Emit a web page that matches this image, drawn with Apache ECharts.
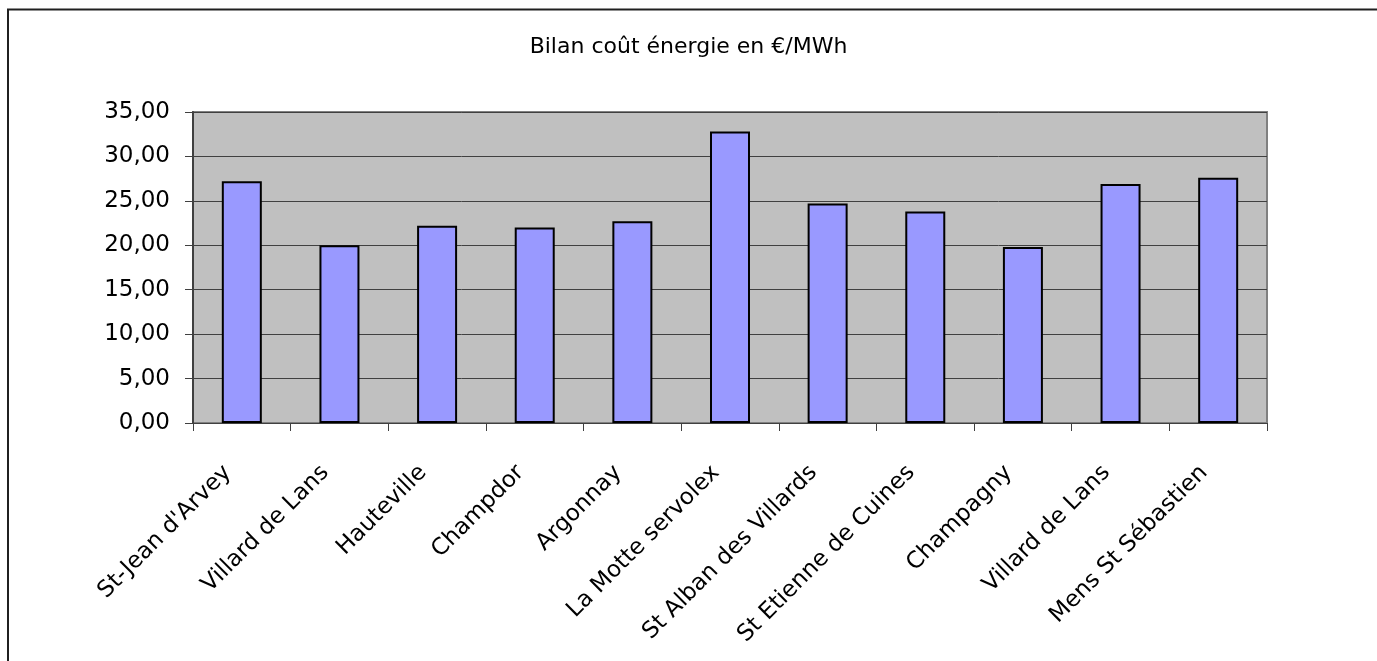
<!DOCTYPE html>
<html>
<head>
<meta charset="utf-8">
<script src="https://cdn.jsdelivr.net/npm/echarts@6/dist/echarts.min.js"></script>
<style>
html,body{margin:0;padding:0;background:#fff;}
#chart{width:1377px;height:661px;}
</style>
</head>
<body>
<div id="chart"></div>
<script>
const titleText = "Bilan coût énergie en €/MWh";
const categories = ["St-Jean d'Arvey","Villard de Lans","Hauteville","Champdor","Argonnay","La Motte servolex","St Alban des Villards","St Etienne de Cuines","Champagny","Villard de Lans","Mens St Sébastien"];
const values = [27.2, 20.0, 22.2, 22.0, 22.7, 32.8, 24.7, 23.8, 19.8, 26.9, 27.6];
const yMin = 0, yMax = 35, yStep = 5;

const chart = echarts.init(document.getElementById('chart'), null, {renderer:'canvas'});
const font = 'DejaVu Sans';
chart.setOption({
  animation:false,
  backgroundColor:'#ffffff',
  textStyle:{fontFamily:font},
  title:{
    text:titleText, left:'center', top:31,
    textStyle:{fontFamily:font, fontSize:22, fontWeight:'normal', color:'#000'}
  },
  graphic:[
    {type:'polyline', shape:{points:[[8,661],[8,9.5],[1377,9.5]]}, style:{stroke:'#202020', lineWidth:2, fill:null}, silent:true}
  ],
  grid:{left:193, right:110, top:112, bottom:238, show:true, backgroundColor:'#C0C0C0', borderColor:'#808080', borderWidth:2},
  xAxis:{
    type:'category', data:categories,
    axisLine:{show:true, lineStyle:{color:'#404040', width:1}},
    axisTick:{show:true, length:8, lineStyle:{color:'#404040'}},
    axisLabel:{rotate:45, fontFamily:font, fontSize:23, color:'#000', margin:32, interval:0, padding:[0,20,0,0]}
  },
  yAxis:{
    type:'value', min:yMin, max:yMax, interval:yStep,
    axisLine:{show:true, lineStyle:{color:'#404040', width:2}},
    axisTick:{show:true, length:8, lineStyle:{color:'#404040'}},
    axisLabel:{fontFamily:font, fontSize:23, color:'#000', margin:23,
      formatter:v=>v.toFixed(2).replace('.',',')},
    splitLine:{show:true, lineStyle:{color:'#404040', width:1}}
  },
  series:[{
    type:'bar', data:values, barWidth:40,
    itemStyle:{color:'#9999FF', borderColor:'#000', borderWidth:2}
  }]
});
</script>
</body>
</html>
